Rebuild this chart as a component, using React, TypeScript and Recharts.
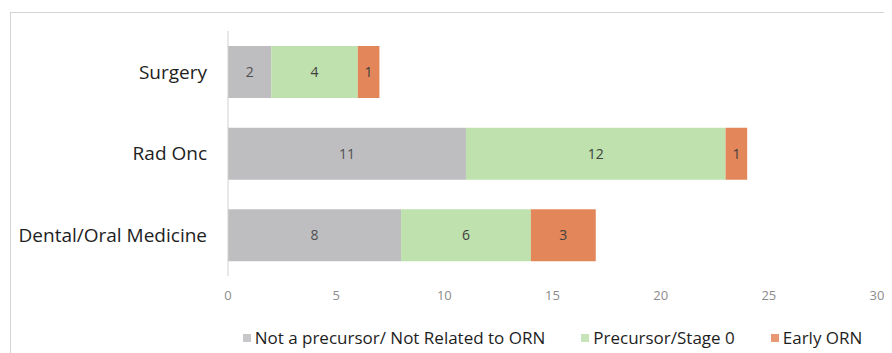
import React from "react";
import { BarChart, Bar, XAxis, YAxis, LabelList } from "recharts";

const categories = ["Surgery", "Rad Onc", "Dental/Oral Medicine"];
const notPrecursor = [2, 11, 8];
const precursor = [4, 12, 6];
const earlyORN = [1, 1, 3];
const xTicks = [0, 5, 10, 15, 20, 25, 30];

const seriesNames = ["Not a precursor/ Not Related to ORN", "Precursor/Stage 0", "Early ORN"];
const colors = ["#BEBEC1", "#BEE1AD", "#E3875A"];

const data = categories.map((c, i) => ({
  name: c,
  a: notPrecursor[i],
  b: precursor[i],
  c: earlyORN[i],
}));

const FONT = "'Open Sans', sans-serif";

export default function App() {
  return (
    <div style={{ position: "relative", width: 884, height: 345, overflow: "hidden", background: "#fff" }}>
      <div style={{ position: "absolute", left: 2, top: 4, width: 920, height: 400, border: "1px solid #d4d4d4", boxSizing: "border-box" }} />
      <div style={{ position: "absolute", left: 0, top: 0 }}>
        <BarChart
          width={884}
          height={345}
          data={data}
          layout="vertical"
          margin={{ top: 23, right: 15, left: 0, bottom: 47 }}
          barSize={52}
        >
          <XAxis
            type="number"
            domain={[0, 30]}
            ticks={xTicks}
            axisLine={false}
            tickLine={false}
            tickMargin={9}
            height={30}
            tick={{ fill: "#8c8c8c", fontSize: 13, fontFamily: FONT }}
          />
          <YAxis
            type="category"
            dataKey="name"
            width={220}
            axisLine={{ stroke: "#d0d0d0" }}
            tickLine={false}
            tickMargin={15}
            tick={{ fill: "#1e1e1e", fontSize: 19, fontFamily: FONT }}
          />
          <Bar dataKey="a" stackId="s" fill={colors[0]} isAnimationActive={false}>
            <LabelList dataKey="a" position="center" fill="#505050" fontSize={14} fontFamily={FONT} />
          </Bar>
          <Bar dataKey="b" stackId="s" fill={colors[1]} isAnimationActive={false}>
            <LabelList dataKey="b" position="center" fill="#404040" fontSize={14} fontFamily={FONT} />
          </Bar>
          <Bar dataKey="c" stackId="s" fill={colors[2]} isAnimationActive={false}>
            <LabelList dataKey="c" position="center" fill="#404040" fontSize={14} fontFamily={FONT} />
          </Bar>
        </BarChart>
      </div>
      <div
        style={{
          position: "absolute",
          left: 220,
          width: 649,
          top: 318,
          display: "flex",
          justifyContent: "center",
          fontFamily: FONT,
          fontSize: 17,
          color: "#1e1e1e",
        }}
      >
        {seriesNames.map((n, i) => (
          <div key={n} style={{ display: "flex", alignItems: "center", marginRight: i < 2 ? 36 : 0 }}>
            <span style={{ display: "inline-block", width: 8, height: 8, background: colors[i], marginRight: 4, opacity: 0.85 }} />
            <span>{n}</span>
          </div>
        ))}
      </div>
    </div>
  );
}
